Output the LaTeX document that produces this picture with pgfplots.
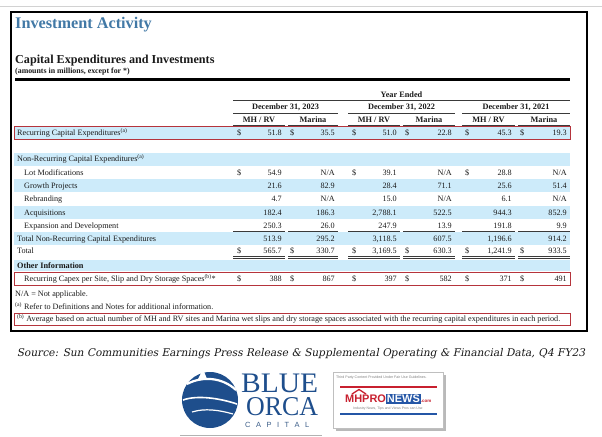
\documentclass[border=0pt]{standalone}
\usepackage{pgfplots}
\pgfplotsset{compat=1.18}
\usepackage{pgfplotstable}
\usepackage{graphicx}
\usepackage{fontspec}
\setmainfont{Liberation Serif}
\setsansfont{Liberation Sans}
\newfontfamily\srcfont{DejaVu Serif}[FakeSlant=0.2]

\definecolor{titleblue}{HTML}{4279A6}
\definecolor{band}{HTML}{CDEBFA}
\definecolor{boxred}{HTML}{B5343C}
\definecolor{navy}{HTML}{1E4E8C}
\definecolor{txt}{HTML}{1A1A1A}
\definecolor{rule}{HTML}{3A3A3A}
\definecolor{mhred}{HTML}{C8202F}
\definecolor{mhblue}{HTML}{2456A6}

\newcommand{\fs}{\fontsize{8.2}{9}\selectfont}
\newcommand{\fb}{\fontsize{8.3}{9}\selectfont\bfseries}

% y = baseline position (pixels from top), MH/RV and Marina values
\pgfplotstableread{
y     mh     marina
135.3 51.8   35.5
175.3 54.9   N/A
188.6 21.6   82.9
201.8 4.7    N/A
215.1 182.4  186.3
228.3 250.3  26.0
241.6 513.9  295.2
253.5 565.7  330.7
281.6 388    867
}\tabA
\pgfplotstableread{
y     mh       marina
135.3 51.0     22.8
175.3 39.1     N/A
188.6 28.4     71.1
201.8 15.0     N/A
215.1 2,788.1  522.5
228.3 247.9    13.9
241.6 3,118.5  607.5
253.5 3,169.5  630.3
281.6 397      582
}\tabB
\pgfplotstableread{
y     mh       marina
135.3 45.3     19.3
175.3 28.8     N/A
188.6 25.6     51.4
201.8 6.1      N/A
215.1 944.3    852.9
228.3 191.8    9.9
241.6 1,196.6  914.2
253.5 1,241.9  933.5
281.6 371      491
}\tabC

\pgfplotsset{valstyle/.style={draw=none, mark=none, nodes near coords,
  point meta=explicit symbolic,
  every node near coord/.append style={anchor=base east, inner sep=0pt, font=\fs, text=txt}}}

\newcommand{\lab}[3]{\node[anchor=base west, inner sep=0pt, font=\fs, text=txt] at (axis cs:#1,#2) {#3};}
\newcommand{\dol}[2]{\node[anchor=base west, inner sep=0pt, font=\fs, text=txt] at (axis cs:#1,#2) {\$};}
\newcommand{\hl}[3]{\draw[rule, line width=1.1bp] (axis cs:#1,#3) -- (axis cs:#2,#3);}
\newcommand{\band}[2]{\fill[band] (axis cs:14,#1) rectangle (axis cs:570,#2);}

\begin{document}
\begin{tikzpicture}
\begin{axis}[name=ax, at={(0,0)}, anchor=south west, scale only axis,
  width=602bp, height=437bp, xmin=0, xmax=602, ymin=0, ymax=437,
  y dir=reverse, hide axis, clip=false]

% top gray rule and outer frame
\draw[gray!35, line width=1bp] (axis cs:0,6.5) -- (axis cs:602,6.5);
\draw[black, line width=1.2bp] (axis cs:11,12) rectangle (axis cs:587,331);

% titles
\node[anchor=base west, inner sep=0pt, text=titleblue, font=\fontsize{16.3}{18}\selectfont\bfseries] at (axis cs:15,28.5) {Investment Activity};
\node[anchor=base west, inner sep=0pt, text=txt, font=\fontsize{12.2}{14}\selectfont\bfseries] at (axis cs:15,63.5) {Capital Expenditures and Investments};
\node[anchor=base west, inner sep=0pt, text=txt, font=\fontsize{7.9}{9}\selectfont\bfseries] at (axis cs:15,73.5) {(amounts in millions, except for *)};
\draw[black, line width=2.5bp] (axis cs:15,79.5) -- (axis cs:570,79.5);

% bands
\band{126.5}{139}
\band{152.5}{165.5}
\band{179.3}{192.3}
\band{205.8}{218.8}
\band{232.3}{245.3}
\band{260}{271}

% header
\node[anchor=base, inner sep=0pt, font=\fb, text=txt] at (axis cs:401.5,97.5) {Year Ended};
\hl{233}{570}{100.3}
\node[anchor=base, inner sep=0pt, font=\fb, text=txt] at (axis cs:285.5,109.5) {December 31, 2023};
\node[anchor=base, inner sep=0pt, font=\fb, text=txt] at (axis cs:401.5,109.5) {December 31, 2022};
\node[anchor=base, inner sep=0pt, font=\fb, text=txt] at (axis cs:516,109.5) {December 31, 2021};
\hl{233}{338}{113.3}
\hl{348}{455}{113.3}
\hl{462}{570}{113.3}
\node[anchor=base, inner sep=0pt, font=\fb, text=txt] at (axis cs:259,123) {MH / RV};
\node[anchor=base, inner sep=0pt, font=\fb, text=txt] at (axis cs:313,123) {Marina};
\node[anchor=base, inner sep=0pt, font=\fb, text=txt] at (axis cs:374,123) {MH / RV};
\node[anchor=base, inner sep=0pt, font=\fb, text=txt] at (axis cs:429,123) {Marina};
\node[anchor=base, inner sep=0pt, font=\fb, text=txt] at (axis cs:488.5,123) {MH / RV};
\node[anchor=base, inner sep=0pt, font=\fb, text=txt] at (axis cs:544,123) {Marina};
\hl{233}{285}{125.8}
\hl{288}{338}{125.8}
\hl{348}{400}{125.8}
\hl{403}{455}{125.8}
\hl{462}{515}{125.8}
\hl{518}{570}{125.8}

% row labels
\lab{17}{135.3}{Recurring Capital Expenditures\textsuperscript{(a)}}
\lab{17}{161.8}{Non-Recurring Capital Expenditures\textsuperscript{(a)}}
\lab{24}{175.3}{Lot Modifications}
\lab{24}{188.6}{Growth Projects}
\lab{24}{201.8}{Rebranding}
\lab{24}{215.1}{Acquisitions}
\lab{24}{228.3}{Expansion and Development}
\lab{17}{241.6}{Total Non-Recurring Capital Expenditures}
\lab{17}{253.5}{Total}
\node[anchor=base west, inner sep=0pt, font=\fb, text=txt] at (axis cs:17,268.1) {Other Information};
\lab{24}{281.6}{Recurring Capex per Site, Slip and Dry Storage Spaces\textsuperscript{(b)}*}
\lab{15}{296.3}{N/A = Not applicable.}
\lab{15}{309.1}{\textsuperscript{(a)} Refer to Definitions and Notes for additional information.}
\lab{17}{321.8}{\textsuperscript{(b)} Average based on actual number of MH and RV sites and Marina wet slips and dry storage spaces associated with the recurring capital expenditures in each period.}

% dollar signs
\dol{237}{135.3}\dol{290}{135.3}\dol{352}{135.3}\dol{405}{135.3}\dol{465}{135.3}\dol{520}{135.3}
\dol{237}{175.3}\dol{352}{175.3}\dol{465}{175.3}
\dol{237}{253.5}\dol{290}{253.5}\dol{352}{253.5}\dol{405}{253.5}\dol{465}{253.5}\dol{520}{253.5}
\dol{237}{281.6}\dol{290}{281.6}\dol{352}{281.6}\dol{405}{281.6}\dol{465}{281.6}\dol{520}{281.6}

% underlines
\foreach \a/\b in {233/285,288/338,348/400,403/455,462/515,518/570}{
  \edef\tmp{\noexpand\draw[rule, line width=1bp] (axis cs:\a,231.8) -- (axis cs:\b,231.8);
    \noexpand\draw[rule, line width=0.9bp] (axis cs:\a,256.3) -- (axis cs:\b,256.3);
    \noexpand\draw[rule, line width=0.9bp] (axis cs:\a,258.8) -- (axis cs:\b,258.8);}\tmp}

% red boxes
\draw[boxred, line width=1bp] (axis cs:14,126.5) rectangle (axis cs:570,139);
\draw[boxred, line width=1bp] (axis cs:14,272.5) rectangle (axis cs:570,285);
\draw[boxred, line width=1bp] (axis cs:14,313) rectangle (axis cs:570,325);

% values
\addplot[valstyle] table[x expr=282, y=y, meta=mh] {\tabA};
\addplot[valstyle] table[x expr=335, y=y, meta=marina] {\tabA};
\addplot[valstyle] table[x expr=397, y=y, meta=mh] {\tabB};
\addplot[valstyle] table[x expr=452, y=y, meta=marina] {\tabB};
\addplot[valstyle] table[x expr=512, y=y, meta=mh] {\tabC};
\addplot[valstyle] table[x expr=567, y=y, meta=marina] {\tabC};

% source line
\node[anchor=base, inner sep=0pt, text=txt] at (axis cs:301,356) {\resizebox{568bp}{!}{\srcfont Source: Sun Communities Earnings Press Release \& Supplemental Operating \& Financial Data, Q4 FY23}};

% Blue Orca logo
\fill[navy] (axis cs:210,400) circle[radius=28bp];
\draw[white, line width=2.2bp] (axis cs:187,384) .. controls (axis cs:202,376) and (axis cs:222,377) .. (axis cs:236,390);
\fill[white] (axis cs:197,381) -- (axis cs:203,369) -- (axis cs:207,379) -- cycle;
\draw[white, line width=1.6bp] (axis cs:183,400) .. controls (axis cs:197,395) and (axis cs:219,398) .. (axis cs:237,404);
\draw[white, line width=1.2bp] (axis cs:192,412) .. controls (axis cs:205,408) and (axis cs:219,410) .. (axis cs:233,414);
\node[anchor=base west, inner sep=0pt, text=navy] at (axis cs:241,392) {\resizebox{77bp}{18.5bp}{BLUE}};
\node[anchor=base west, inner sep=0pt, text=navy] at (axis cs:246,415) {\resizebox{72bp}{18bp}{ORCA}};
\node[anchor=base west, inner sep=0pt, text=navy!70!gray] at (axis cs:245,427.5) {\fontsize{7.5}{8}\sffamily C\hspace{5.5bp}A\hspace{5.5bp}P\hspace{5.5bp}I\hspace{5.5bp}T\hspace{5.5bp}A\hspace{5.5bp}L};
\draw[gray!60, line width=0.8bp] (axis cs:180,435) -- (axis cs:322,435);

% MHProNews badge
\fill[gray!55] (axis cs:336,375) rectangle (axis cs:446,431);
\fill[white] (axis cs:333,372) rectangle (axis cs:443,428);
\draw[gray!50, line width=0.6bp] (axis cs:333,372) rectangle (axis cs:443,428);
\node[anchor=base west, inner sep=0pt, text=gray] at (axis cs:336,378.5) {\fontsize{3.6}{4}\sffamily Third Party Content Provided Under Fair Use Guidelines.};
\draw[mhred, line width=1.1bp] (axis cs:340,387) -- (axis cs:437,387);
\draw[mhred, line width=1.3bp] (axis cs:352,394) -- (axis cs:359,389.5) -- (axis cs:366,394);
\node[anchor=base west, inner sep=0pt] at (axis cs:345,402.5) {\fontsize{11}{12}\sffamily\bfseries\textcolor{mhred}{MHPRO}\setlength{\fboxsep}{1bp}\colorbox{mhblue}{\textcolor{white}{NEWS}}\fontsize{4.5}{5}\selectfont\textcolor{mhred}{.com}};
\node[anchor=base, inner sep=0pt, text=gray] at (axis cs:388,409.5) {\fontsize{3.5}{4}\sffamily Industry News, Tips and Views Pros can Use};
\draw[mhblue, line width=1.1bp] (axis cs:340,414) -- (axis cs:437,414);
\end{axis}
\pgfresetboundingbox
\path[use as bounding box] (ax.south west) rectangle (ax.north east);
\end{tikzpicture}
\end{document}
